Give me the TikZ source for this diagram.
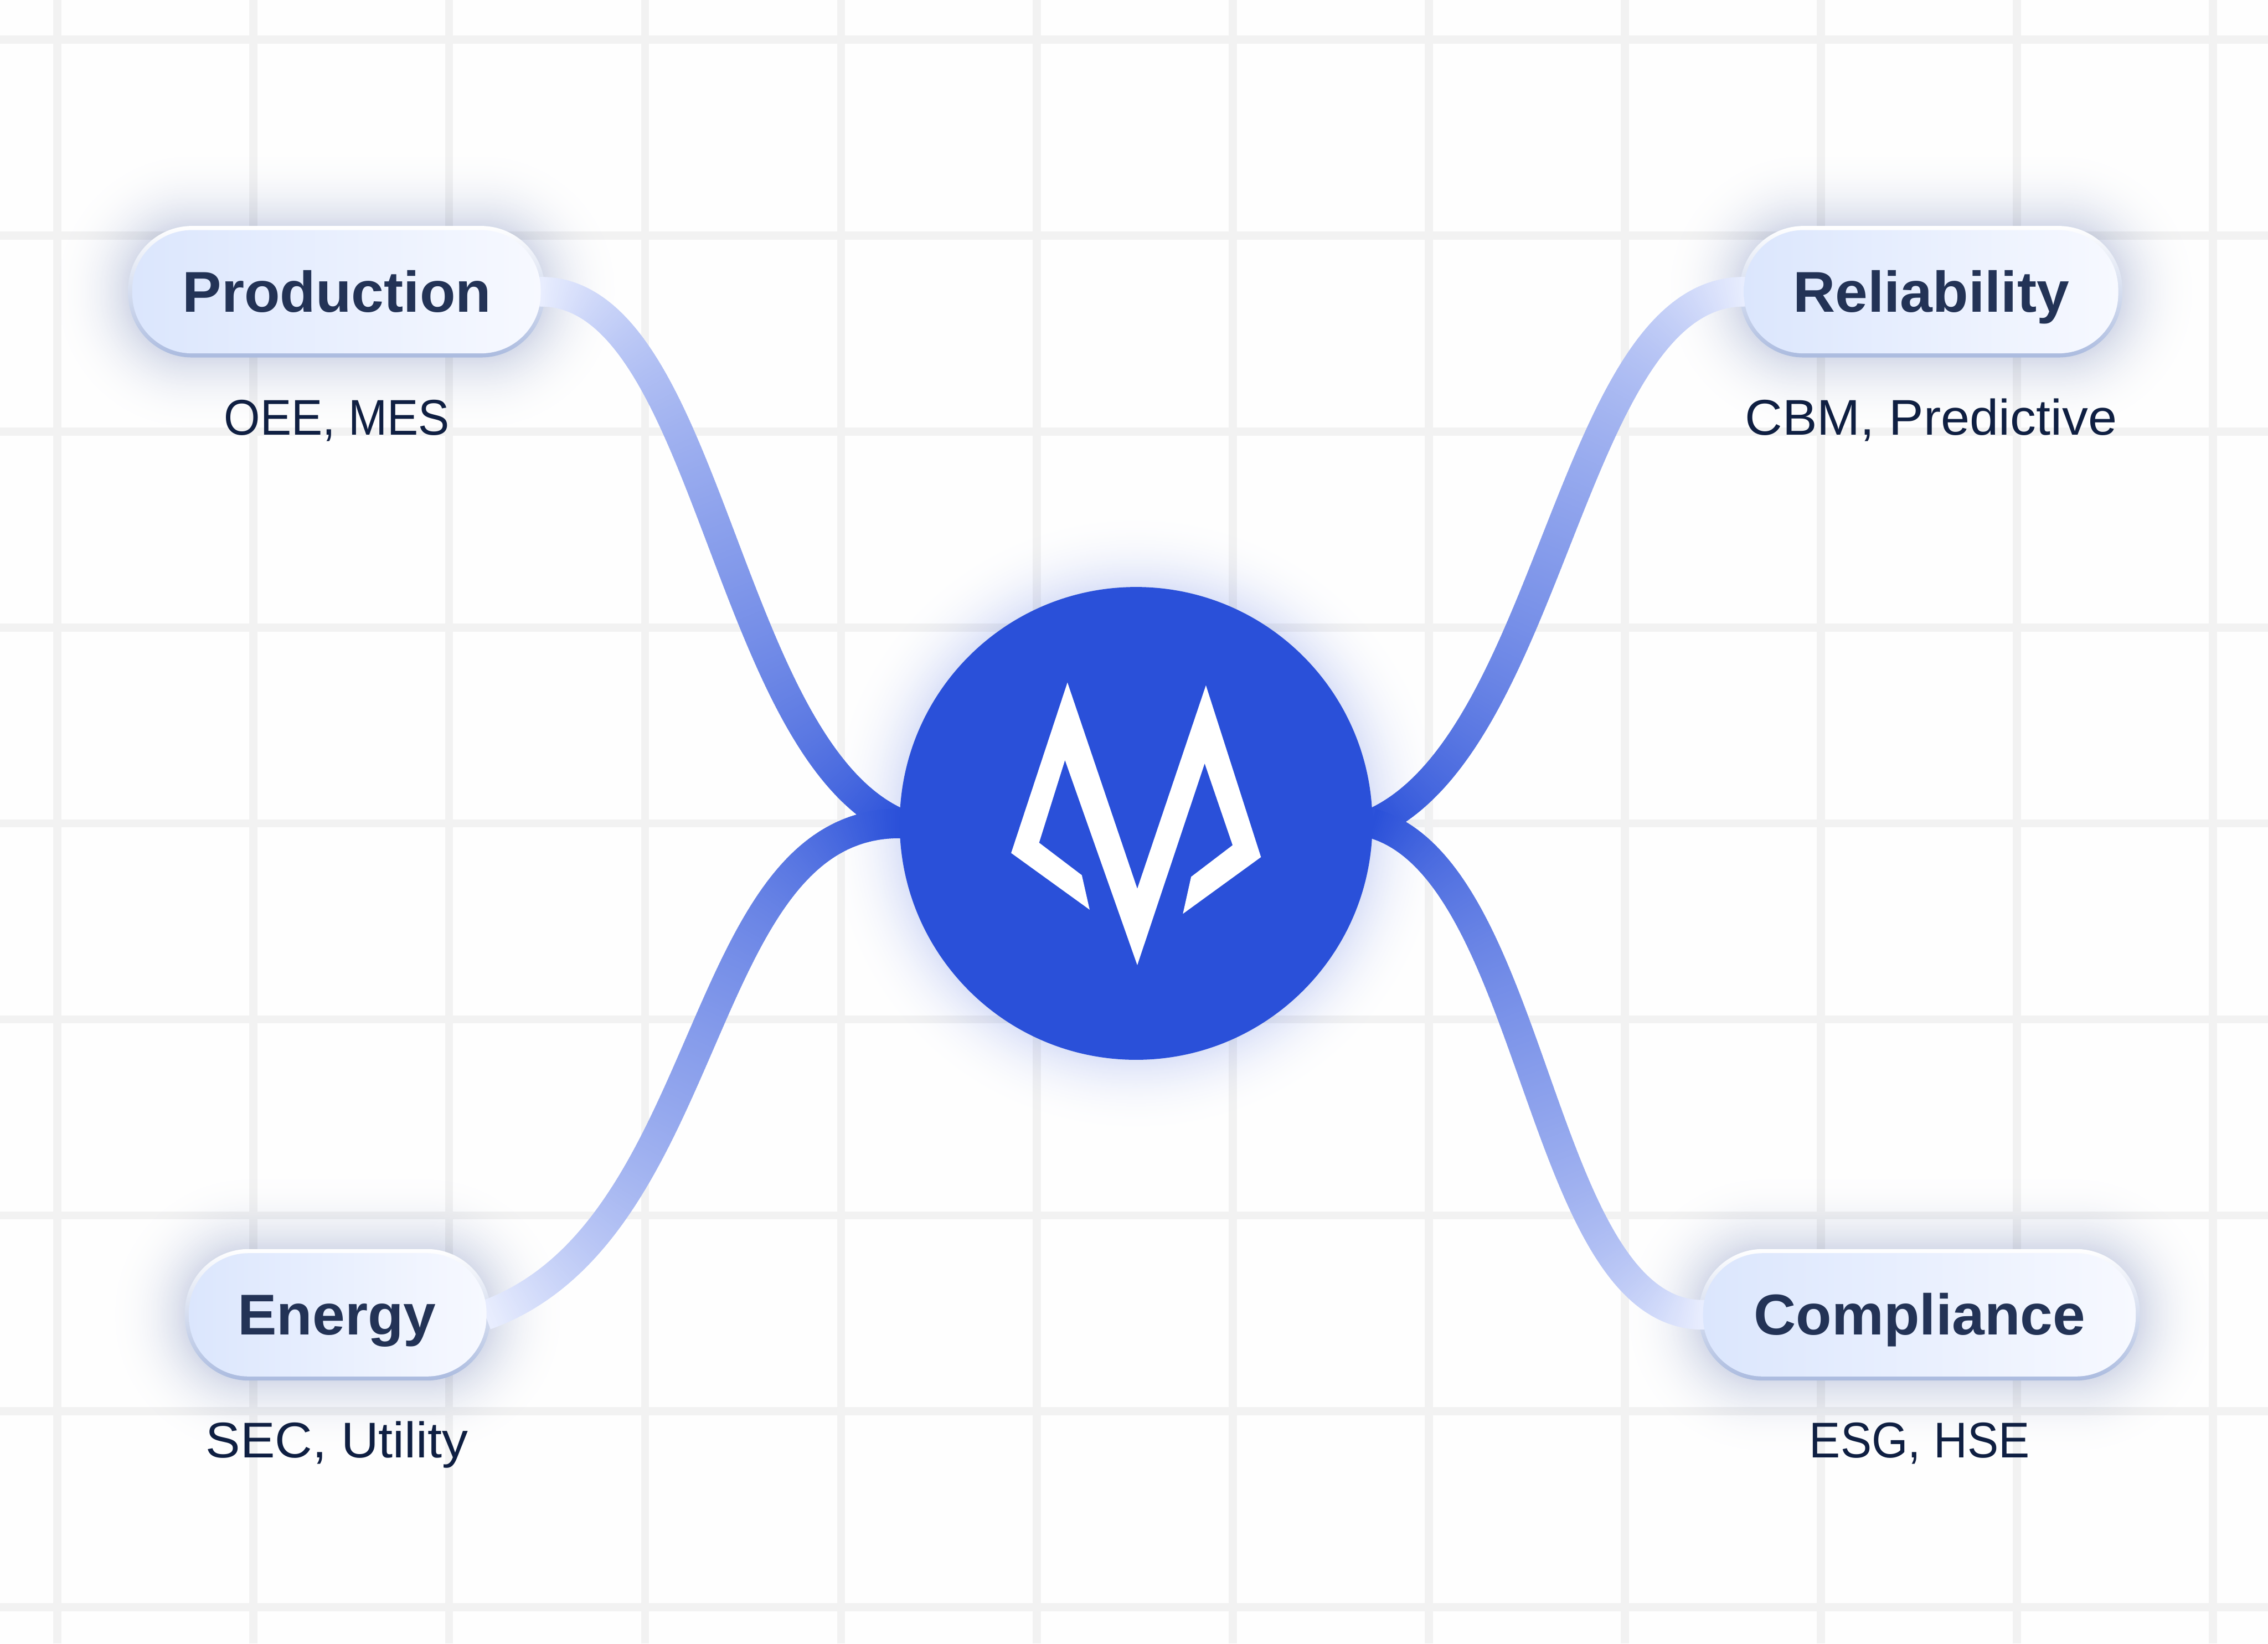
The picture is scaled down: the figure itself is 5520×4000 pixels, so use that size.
\documentclass[tikz,border=0pt]{standalone}
\usepackage{fontspec}
\setmainfont{Liberation Sans}
\newfontfamily\pillfont[FakeStretch=1.017]{Liberation Sans Bold}
\newfontfamily\subfont[FakeStretch=0.93]{Liberation Sans}
\newfontfamily\subwide[FakeStretch=1.035]{Liberation Sans}
\usetikzlibrary{decorations.markings}
\pgfdeclarelayer{back}\pgfdeclarelayer{mid}
\pgfsetlayers{back,mid,main}
\definecolor{bgc}{HTML}{FEFEFE}
\definecolor{hubc}{HTML}{2A50D9}
\definecolor{ribc}{HTML}{E8EDFE}
\definecolor{shadc}{RGB}{30,58,138}
\definecolor{rimtop}{HTML}{FFFFFF}
\definecolor{rimmid}{HTML}{E3E8F5}
\definecolor{rimbot}{HTML}{ABBBDF}
\definecolor{faceL}{HTML}{DBE6FD}
\definecolor{faceR}{HTML}{F7F9FF}
\definecolor{pilltxt}{HTML}{233356}
\definecolor{subtxt}{HTML}{0F1F42}
\tikzset{
  gridlines/.style={black,opacity=0.047,line width=0.2cm},
  pillrim/.style={rectangle,inner sep=0,draw=none,rounded corners=1.55cm,
    top color=rimtop,middle color=rimmid,bottom color=rimbot},
  pillface/.style={rectangle,inner sep=0,draw=none,rounded corners=1.45cm,
    left color=faceL,right color=faceR},
  pilltext/.style={anchor=base,inner sep=0,text=pilltxt,font=\pillfont\fontsize{39.8pt}{40pt}\selectfont},
  subtext/.style={anchor=base,inner sep=0,text=subtxt,font=\subfont\fontsize{34.7pt}{35pt}\selectfont},
  subtextw/.style={subtext,font=\subwide\fontsize{34.7pt}{35pt}\selectfont},
  hubnode/.style={circle,inner sep=0,fill=hubc,minimum size=11.5cm},
  ribbon/.style 2 args={decorate,decoration={markings,
    mark=between positions 0 and 1 step 0.05cm with {
      \pgfgettransformentries{\ma}{\mb}{\mc}{\md}{\mx}{\my}
      \pgfmathsetmacro\mf{100*min(1,max(0,(\mx/0.2845276-#1)/(#2-#1)))}
      \fill[hubc!\mf!ribc] (-0.035cm,-0.36cm) rectangle (0.035cm,0.36cm);
    }}},
}
\newcommand{\pillshadow}[4]{% cx cy w h
  \foreach \i in {70,69,...,1}{
    \pgfmathsetmacro\e{200*\i/70}
    \pgfmathsetmacro\pp{18*(1-\i/70)^2.4}
    \pgfmathsetmacro\rr{(155+\e)*0.01}
    \fill[shadc!\pp!bgc,rounded corners=\rr cm]
      ({#1-#3/2-\e},{#2-#4/2-\e}) rectangle ({#1+#3/2+\e},{#2+#4/2+\e});
  }}
\newcommand{\pillrimnode}[5]{% name cx cy w h
  \pgfmathsetmacro\pw{#4*0.01}\pgfmathsetmacro\ph{#5*0.01}
  \node[pillrim,minimum width=\pw cm,minimum height=\ph cm] (#1) at (#2,#3) {};
}
\newcommand{\pillfacenode}[5]{% name cx cy w h
  \pgfmathsetmacro\qw{(#4-20)*0.01}\pgfmathsetmacro\qh{(#5-20)*0.01}
  \node[pillface,minimum width=\qw cm,minimum height=\qh cm] (#1) at (#2,#3) {};
}
\begin{document}
\begin{tikzpicture}[x=0.01cm,y=-0.01cm]
\useasboundingbox (0,0) rectangle (5520,4000);
\begin{pgfonlayer}{back}
\fill[bgc] (0,0) rectangle (5520,4000);
\pillshadow{819}{710}{1014}{320}
\pillshadow{4700}{710}{931}{320}
\pillshadow{822}{3200}{744}{320}
\pillshadow{4671.5}{3200}{1073}{320}
\foreach \i in {70,69,...,1}{
  \pgfmathsetmacro\e{190*\i/70}
  \pgfmathsetmacro\pp{16*(1-\i/70)^2.2}
  \fill[hubc!\pp!bgc] (2765,2004) circle ({575+\e});
}
\draw[gridlines]
  foreach \gx in {139,616,1093,1570,2047,2524,3001,3478,3955,4432,4909,5386} {(\gx,0) -- (\gx,4000)}
  foreach \gy in {96,573,1050,1527,2004,2481,2958,3435,3912} {(0,\gy) -- (5520,\gy)};
\pillrimnode{prod}{819}{710}{1014}{320}
\pillrimnode{reli}{4700}{710}{931}{320}
\pillrimnode{ener}{822}{3200}{744}{320}
\pillrimnode{comp}{4671.5}{3200}{1073}{320}
\end{pgfonlayer}
% hub and pill faces
\node[hubnode] (hub) at (2765,2004) {};
\pillfacenode{prodface}{819}{710}{1014}{320}
\pillfacenode{reliface}{4700}{710}{931}{320}
\pillfacenode{enerface}{822}{3200}{744}{320}
\pillfacenode{compface}{4671.5}{3200}{1073}{320}
% connectors
\begin{pgfonlayer}{mid}
\path[ribbon={1320}{2190}] (prodface.east) .. controls +(408,0) and +(-425,-184) .. (hub.west);
\path[ribbon={4239}{3340}] (reliface.west) .. controls +(-420,0) and +(440,-195) .. (hub.east);
\path[ribbon={1190}{2190}] (enerface.east) .. controls +(560,-205) and +(-500,0) .. (hub.west);
\path[ribbon={4136}{3340}] (compface.west) .. controls +(-400,0) and +(400,115) .. (hub.east);
\end{pgfonlayer}
% logo
\fill[white] (2598,1661) -- (2768,2163) -- (2935,1668) -- (3069,2086) -- (2879,2224)
  -- (2899,2134) -- (3000,2057) -- (2932,1858) -- (2768,2349) -- (2592,1850)
  -- (2529,2051) -- (2633,2130) -- (2652,2214) -- (2461,2076) -- cycle;
% labels
\node[pilltext] (prodlabel) at (820,759) {Production};
\node[pilltext] (relilabel) at (4700,759) {Reliability};
\node[pilltext] (enerlabel) at (820,3249) {Energy};
\node[pilltext] (complabel) at (4672,3249) {Compliance};
\node[subtext] (prodsub) at (820,1059) {OEE, MES};
\node[subtextw] (relisub) at (4700,1059) {CBM, Predictive};
\node[subtextw] (enersub) at (820,3547) {SEC, Utility};
\node[subtext] (compsub) at (4672,3547) {ESG, HSE};
\end{tikzpicture}
\end{document}
